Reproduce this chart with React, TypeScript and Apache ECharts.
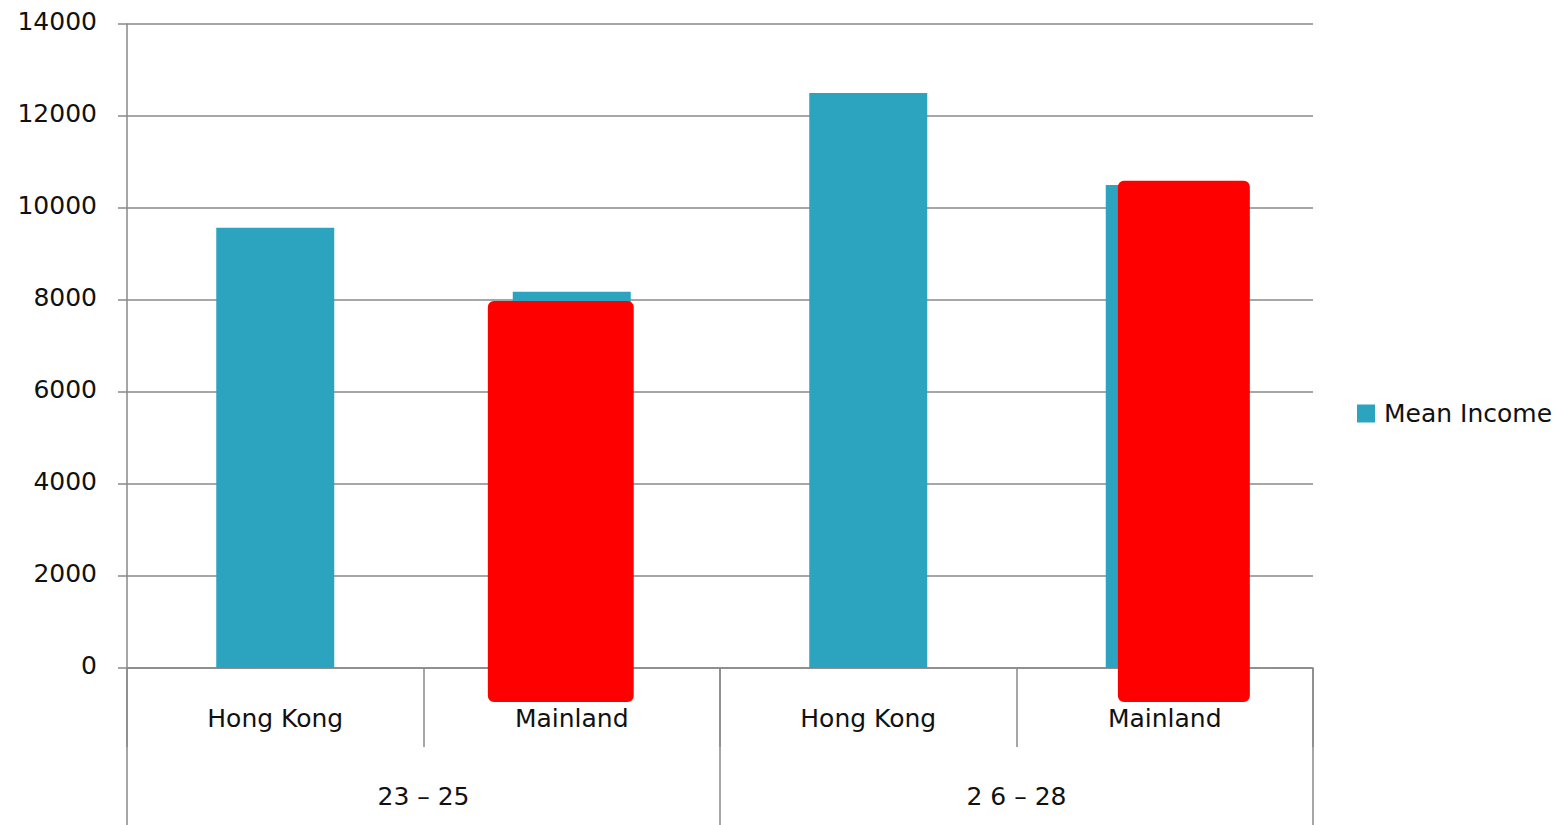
import React, { useEffect, useRef } from "react";
import * as echarts from "echarts";

// Inner category level (origin) and outer level (age band)
const origins = ["Hong Kong", "Mainland", "Hong Kong", "Mainland"];
const ageBands = ["23 – 25", "2 6 – 28"];
const meanIncome = [9570, 8180, 12500, 10500];
const yTicks = { min: 0, max: 14000, step: 2000 };

// Highlight boxes drawn over the Mainland bars: category index, top value, bottom value
const highlightCategory = [1, 3];
const highlightTop = [7980, 10590];
const highlightBottom = [-740, -740];

// Horizontal extent of each highlight box, as fractions of the category band (relative to its centre)
const highlightSpan = [
  { from: -0.283, to: 0.209 },
  { from: -0.158, to: 0.287 },
];

const FONT = "'DejaVu Sans', Verdana, sans-serif";
const AXIS_GREY = "#888888";
const TEXT = "#111";

export default function App() {
  const ref = useRef<HTMLDivElement>(null);

  useEffect(() => {
    if (!ref.current) return;
    const chart = echarts.init(ref.current, null, { renderer: "svg" });

    const highlightData = highlightCategory.map((c, i) => [c, highlightTop[i], highlightBottom[i]]);

    chart.setOption({
      animation: false,
      backgroundColor: "#ffffff",
      grid: { left: 127, right: 250, top: 24, bottom: 157, containLabel: false },
      legend: {
        data: [{ name: "Mean Income", icon: "rect" }],
        orient: "vertical",
        left: 1357,
        top: 401,
        padding: 0,
        itemWidth: 18,
        itemHeight: 18,
        textStyle: { fontFamily: FONT, fontSize: 25, color: TEXT, padding: [0, 0, 0, 4] },
      },
      xAxis: [
        {
          type: "category",
          data: origins,
          position: "bottom",
          axisLine: { show: true, lineStyle: { color: AXIS_GREY, width: 1.5 } },
          axisTick: { show: true, interval: 0, length: 79, lineStyle: { color: AXIS_GREY, width: 1.5 } },
          axisLabel: { interval: 0, margin: 38, fontFamily: FONT, fontSize: 25, color: TEXT },
        },
        {
          type: "category",
          data: ageBands,
          position: "bottom",
          offset: 0,
          axisLine: { show: false },
          axisTick: { show: true, interval: 0, length: 160, lineStyle: { color: AXIS_GREY, width: 1.5 } },
          axisLabel: { interval: 0, margin: 116, fontFamily: FONT, fontSize: 25, color: TEXT },
        },
      ],
      yAxis: {
        type: "value",
        min: yTicks.min,
        max: yTicks.max,
        interval: yTicks.step,
        axisLine: { show: true, lineStyle: { color: AXIS_GREY, width: 1.5 } },
        axisTick: { show: true, length: 9, lineStyle: { color: AXIS_GREY, width: 1.5 } },
        splitLine: { show: true, lineStyle: { color: AXIS_GREY, width: 1.5 } },
        axisLabel: {
          margin: 30,
          fontFamily: FONT,
          fontSize: 25,
          color: TEXT,
          verticalAlign: "bottom",
          padding: [0, 0, -10, 0],
          formatter: (v: number) => String(v),
        },
      },
      series: [
        {
          name: "Mean Income",
          type: "bar",
          xAxisIndex: 0,
          data: meanIncome,
          barWidth: 118,
          itemStyle: { color: "#2ca3bf" },
          z: 2,
        },
        {
          name: "highlight",
          type: "custom",
          xAxisIndex: 0,
          clip: false,
          z: 5,
          data: highlightData,
          renderItem: (params: any, api: any) => {
            const idx = api.value(0);
            const top = api.coord([idx, api.value(1)]);
            const bottom = api.coord([idx, api.value(2)]);
            const band = api.size([1, 0])[0];
            const span = highlightSpan[params.dataIndex];
            return {
              type: "rect",
              shape: {
                x: top[0] + span.from * band,
                y: top[1],
                width: (span.to - span.from) * band,
                height: bottom[1] - top[1],
                r: 6,
              },
              style: { fill: "#ff0000" },
            };
          },
        },
      ],
    });

    return () => chart.dispose();
  }, []);

  return (
    <div
      ref={ref}
      style={{ position: "fixed", left: 0, top: 0, width: 1563, height: 825, background: "#fff" }}
    />
  );
}
